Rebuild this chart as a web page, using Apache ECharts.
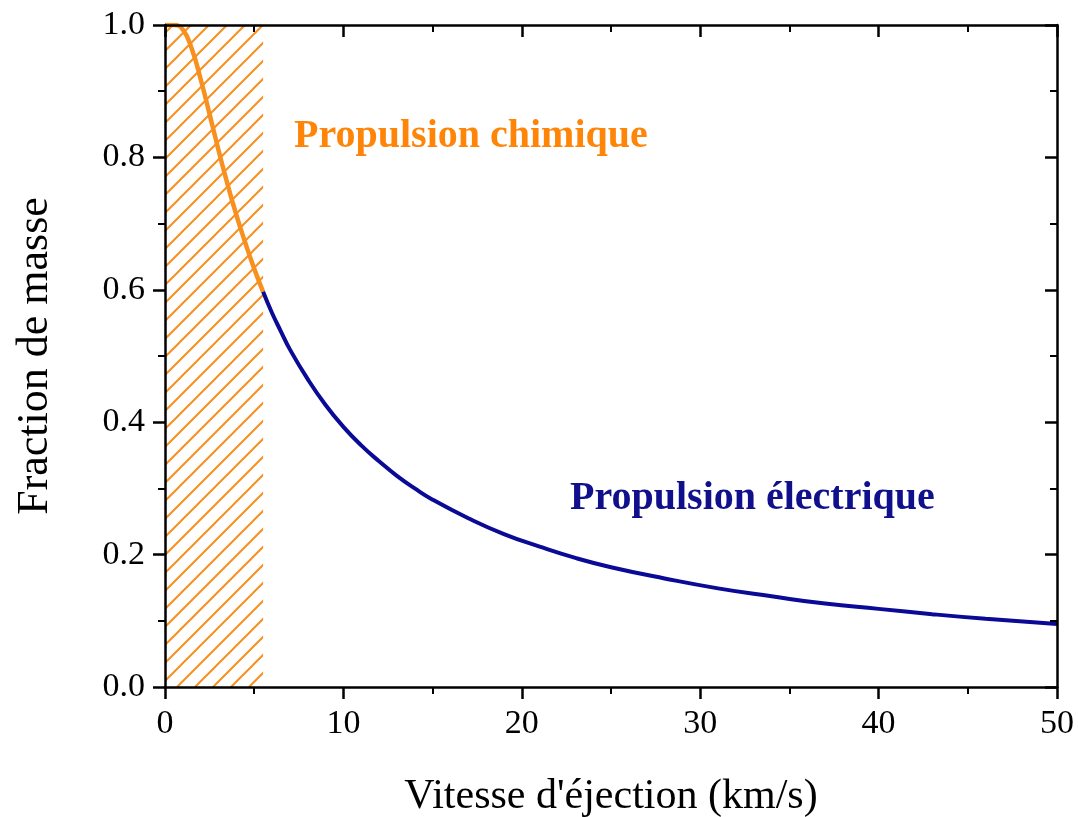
<!DOCTYPE html>
<html lang="fr">
<head>
	<meta charset="UTF-8">
	<script src="https://cdn.jsdelivr.net/npm/echarts@6/dist/echarts.min.js"></script>
	<style>
		html, body { margin: 0; padding: 0; background: #fff; }
		#chart { width: 1078px; height: 817px; }
	</style>
</head>
<body>
<div id="chart"></div>
<script>
  // valeurs
  var chimX = [0, 0.5, 1, 1.5, 2, 2.5, 3, 3.5, 4, 4.5, 5, 5.5];
  var chimY = [1.0, 1.0, 0.993, 0.964, 0.918, 0.865, 0.811, 0.760, 0.713, 0.671, 0.632, 0.597];
  var elecX = [5.5, 6, 6.5, 7, 8, 9, 10, 11, 12, 13, 14, 15, 17, 19, 21, 23, 25, 28, 31, 34, 37, 40, 43, 46, 50];
  var elecY = [0.597, 0.565, 0.537, 0.510, 0.465, 0.426, 0.393, 0.365, 0.341, 0.319, 0.300, 0.283, 0.255, 0.231, 0.212, 0.195, 0.181, 0.164, 0.149, 0.137, 0.126, 0.118, 0.110, 0.103, 0.095];
  var zoneChimique = [0, 5.5];
  var xTicks = [0, 10, 20, 30, 40, 50];
  var yTicks = [0.0, 0.2, 0.4, 0.6, 0.8, 1.0];

  var orange = '#F7901E';
  var bleu = '#0A0A96';

  function pairs(xs, ys) {
    var out = [];
    for (var i = 0; i < xs.length; i++) out.push([xs[i], ys[i]]);
    return out;
  }

  // motif hachuré "/"
  var s = 18;
  var cv = document.createElement('canvas');
  cv.width = s; cv.height = s;
  var cx = cv.getContext('2d');
  cx.strokeStyle = orange;
  cx.lineWidth = 2;
  cx.beginPath();
  cx.moveTo(0, s); cx.lineTo(s, 0);
  cx.moveTo(-2, 2); cx.lineTo(2, -2);
  cx.moveTo(s - 2, s + 2); cx.lineTo(s + 2, s - 2);
  cx.stroke();

  var serif = '"Liberation Serif", "Times New Roman", serif';
  var axisLine = { onZero: false, lineStyle: { color: '#000', width: 2.5 } };
  var tick = { length: 12, lineStyle: { width: 2.5, color: '#000' } };
  var tickIn = { inside: true, length: 12, lineStyle: { width: 2.5, color: '#000' } };
  var minor = { show: true, splitNumber: 2, length: 7, lineStyle: { width: 2, color: '#000' } };

  var chart = echarts.init(document.getElementById('chart'));
  var option = {
    animation: false,
    grid: { left: 165, right: 21, top: 25, bottom: 130, outerBoundsMode: 'none' },
    xAxis: [
      {
        type: 'value', min: 0, max: 50, interval: 10, z: 10,
        axisLine: axisLine, axisTick: tick, minorTick: minor,
        splitLine: { show: false },
        axisLabel: { fontFamily: serif, fontSize: 34, color: '#000', margin: 20,
          formatter: function (v) { return xTicks.indexOf(v) >= 0 ? String(v) : ''; } },
        name: "Vitesse d'éjection (km/s)", nameLocation: 'middle', nameGap: 89,
        nameTextStyle: { fontFamily: serif, fontSize: 42, color: '#000' }
      },
      {
        type: 'value', position: 'top', min: 0, max: 50, interval: 10, z: 10,
        axisLine: axisLine, axisTick: tickIn, minorTick: { show: true, splitNumber: 2, length: 7, lineStyle: { width: 2, color: '#000' } },
        splitLine: { show: false },
        axisLabel: { show: false }
      }
    ],
    yAxis: [
      {
        type: 'value', min: 0, max: 1, interval: 0.2, z: 10,
        axisLine: axisLine, axisTick: tick, minorTick: minor,
        splitLine: { show: false },
        axisLabel: { fontFamily: serif, fontSize: 34, color: '#000', margin: 20,
          formatter: function (v) { return v.toFixed(1); } },
        name: 'Fraction de masse', nameLocation: 'middle', nameGap: 108,
        nameTextStyle: { fontFamily: serif, fontSize: 44, color: '#000' }
      },
      {
        type: 'value', position: 'right', min: 0, max: 1, interval: 0.2, z: 10,
        axisLine: axisLine, axisTick: tickIn, minorTick: { show: true, splitNumber: 2, length: 7, lineStyle: { width: 2, color: '#000' } },
        splitLine: { show: false },
        axisLabel: { show: false }
      }
    ],
    series: [
      {
        name: 'Propulsion chimique', type: 'line', smooth: true, showSymbol: false,
        data: pairs(chimX, chimY), z: 4,
        lineStyle: { color: orange, width: 4.5 },
        markArea: {
          silent: true,
          itemStyle: { color: { image: cv, repeat: 'repeat' } },
          data: [[{ xAxis: zoneChimique[0] }, { xAxis: zoneChimique[1] }]]
        }
      },
      {
        name: 'Propulsion électrique', type: 'line', smooth: true, showSymbol: false,
        data: pairs(elecX, elecY), z: 4,
        lineStyle: { color: bleu, width: 4 }
      }
    ],
    graphic: [
      { type: 'text', left: 294, top: 117,
        style: { text: 'Propulsion chimique', fill: '#FF8508', fontFamily: serif, fontWeight: 'bold', fontSize: 40 } },
      { type: 'text', left: 570, top: 479,
        style: { text: 'Propulsion électrique', fill: '#10108C', fontFamily: serif, fontWeight: 'bold', fontSize: 40 } }
    ]
  };
  chart.setOption(option);
</script>
</body>
</html>
